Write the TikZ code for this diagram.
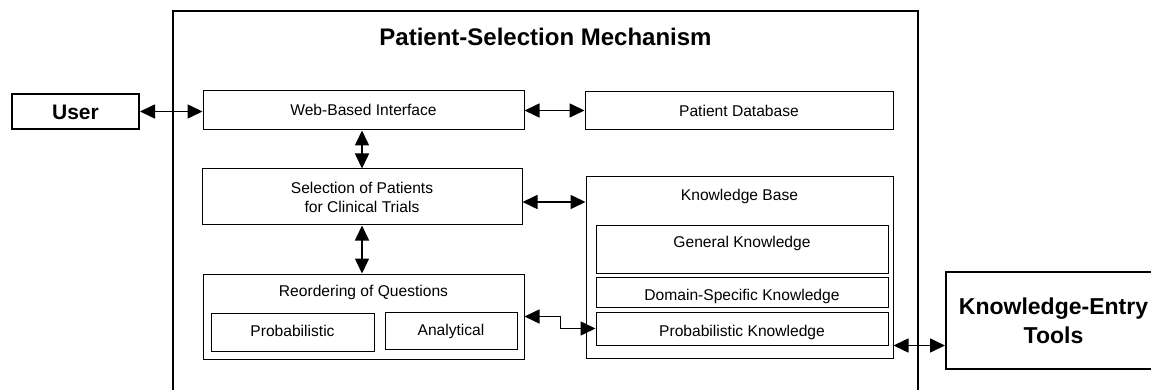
\documentclass[tikz,border=0pt]{standalone}
\usepackage{fontspec}
\setmainfont{Liberation Sans}
\usetikzlibrary{arrows.meta}
\begin{document}
\begin{tikzpicture}[x=1pt,y=-1pt,
  box/.style={draw, line width=1pt, inner sep=0pt, rectangle},
  heavy/.style={draw, line width=2pt, inner sep=0pt, rectangle},
  lbl/.style={font=\fontsize{15.6}{19}\selectfont, inner sep=0pt, anchor=base, align=center},
  big/.style={font=\fontsize{23}{28}\selectfont\bfseries, inner sep=0pt, anchor=base, align=center},
  arr/.style={{Triangle[length=15pt,width=14pt]}-{Triangle[length=15pt,width=14pt]}, line width=1.6pt},
]
\useasboundingbox (0,0) rectangle (1151,390);
\clip (0,0) rectangle (1151,390);
\fill[white] (0,0) rectangle (1151,390);

% outer mechanism box (bottom edge lies outside the picture)
\node[heavy, minimum width=745pt, minimum height=389pt] (psm) at (545.5,205.5) {};
\node[big, font=\fontsize{24}{28}\selectfont\bfseries] (title) at (545.5,46) {Patient-Selection Mechanism};

% user
\node[heavy, minimum width=127pt, minimum height=35pt] (user) at (75.5,111.5) {};
\node[big, font=\fontsize{21}{25}\selectfont\bfseries] (tuser) at (75.5,119.5) {User};

% boxes
\node[box, minimum width=321pt, minimum height=39pt] (web) at (363.5,110.5) {};
\node[lbl] (tweb) at (363.5,115.7) {Web-Based Interface};

\node[box, minimum width=308pt, minimum height=38pt] (pdb) at (739,111) {};
\node[lbl] (tpdb) at (739,116.5) {Patient Database};

\node[box, minimum width=320pt, minimum height=56pt] (sel) at (362,197) {};
\node[lbl, anchor=center] (tsel) at (362,197.5) {Selection of Patients\\for Clinical Trials};

\node[box, minimum width=307pt, minimum height=181pt] (kb) at (739.5,267.5) {};
\node[lbl] (tkb) at (739.5,200.7) {Knowledge Base};

\node[box, minimum width=292pt, minimum height=47pt] (gk) at (742,249.5) {};
\node[lbl] (tgk) at (742,247.5) {General Knowledge};

\node[box, minimum width=292pt, minimum height=30pt] (dsk) at (742,292) {};
\node[lbl] (tdsk) at (742,300) {Domain-Specific Knowledge};

\node[box, minimum width=292pt, minimum height=33pt] (pk) at (742,328.5) {};
\node[lbl] (tpk) at (742,336) {Probabilistic Knowledge};

\node[box, minimum width=321pt, minimum height=85pt] (reo) at (363.5,316.5) {};
\node[lbl] (treo) at (363.5,296.7) {Reordering of Questions};

\node[box, minimum width=163pt, minimum height=38pt] (prob) at (292.5,332) {};
\node[lbl] (tprob) at (292.5,336) {Probabilistic};

\node[box, minimum width=132pt, minimum height=37pt] (anal) at (451,330.5) {};
\node[lbl] (tanal) at (451,335) {Analytical};

% knowledge-entry tools (right edge lies outside the picture)
\node[heavy, minimum width=216pt, minimum height=97pt] (ket) at (1054,320.5) {};
\node[big] (tket1) at (1053.5,314.5) {Knowledge-Entry};
\node[big] (tket2) at (1053.5,343) {Tools};

% connectors
\draw[arr] (user.east) -- (user.east -| web.west);
\draw[arr] (web.east) -- (web.east -| pdb.west);
\draw[arr] (sel.north |- web.south) -- (sel.north);
\draw[arr] ([yshift=-5pt]sel.east) -- ([yshift=-5pt]sel.east -| kb.west);
\draw[arr] (sel.south) -- (sel.south |- reo.north);
\draw[arr] (reo.east) -- ++(36,0) |- (pk.west);
\draw[arr] (kb.east |- pk.south) -- (ket.west |- pk.south);
\end{tikzpicture}
\end{document}
